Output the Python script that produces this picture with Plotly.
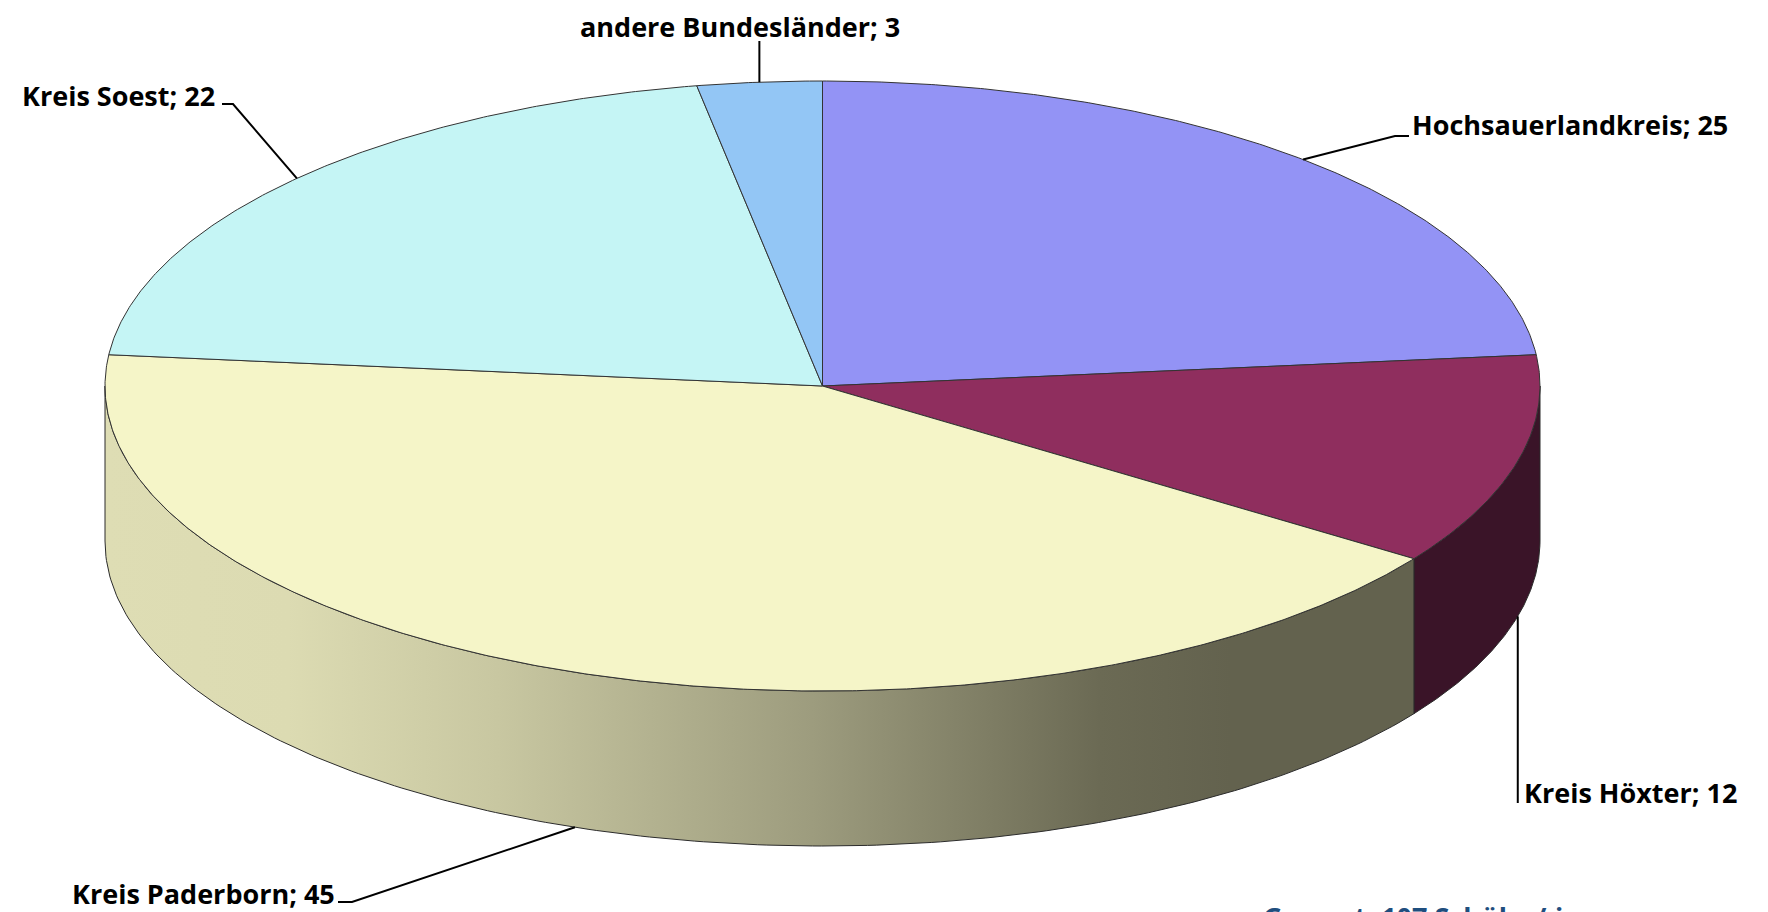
import numpy as np
import plotly.graph_objects as go

# ---------------- data ----------------
categories = ["Hochsauerlandkreis", "Kreis Höxter", "Kreis Paderborn", "Kreis Soest", "andere Bundesländer"]
values = [25, 12, 45, 22, 3]
top_colors = ["#9393F5", "#8F2E5E", "#F5F5C8", "#C5F5F5", "#93C6F5"]
side_colors = ["#4B4B7D", "#3A1428", "gradient", "#637C7C", "#4B647D"]
paderborn_side_scale = [[0.0, "#DEDDB4"], [0.14, "#DCDBB2"], [0.30, "#C8C7A1"],
                        [0.54, "#9D9C7E"], [0.76, "#6B6A54"], [0.86, "#63624E"], [1.0, "#63624E"]]
total_label = "Gesamt: 107 Schüler/-innen"

# ---------------- geometry (pixel space of the window) ----------------
W, H = 1768, 912
OFF = 8  # default page margin of the html body
CX, CY, RX, RY, DEPTH = 822.5, 386.0, 717.5, 305.0, 155.0

total = sum(values)
bounds = np.concatenate([[0], np.cumsum(values)]) / total * 360.0


def ell(theta_deg, dy=0.0):
    t = np.radians(theta_deg)
    return CX + RX * np.sin(t), CY - RY * np.cos(t) + dy


fig = go.Figure()

# side faces (front half only: 90..270 deg clockwise from 12 o'clock)
for i, cat in enumerate(categories):
    a, b = bounds[i], bounds[i + 1]
    lo, hi = max(a, 90.0), min(b, 270.0)
    if hi <= lo:
        continue
    th = np.linspace(lo, hi, 200)
    xt, yt = ell(th)
    xb, yb = ell(th[::-1], DEPTH)
    xs = np.concatenate([xt, xb, xt[:1]])
    ys = np.concatenate([yt, yb, yt[:1]])
    kw = {}
    if side_colors[i] == "gradient":
        kw["fillgradient"] = dict(type="horizontal", colorscale=paderborn_side_scale)
        kw["fillcolor"] = "#9D9C7E"
    else:
        kw["fillcolor"] = side_colors[i]
    fig.add_trace(go.Scatter(x=xs, y=ys, mode="lines", fill="toself",
                             line=dict(color="#2b2b2b", width=1), hoverinfo="skip",
                             showlegend=False, **kw))

# top faces
for i, cat in enumerate(categories):
    a, b = bounds[i], bounds[i + 1]
    th = np.linspace(a, b, max(int((b - a) * 3), 10))
    xt, yt = ell(th)
    xs = np.concatenate([[CX], xt, [CX]])
    ys = np.concatenate([[CY], yt, [CY]])
    fig.add_trace(go.Scatter(x=xs, y=ys, mode="lines", fill="toself", fillcolor=top_colors[i],
                             line=dict(color="#333333", width=1), hoverinfo="skip",
                             showlegend=False, name=cat))

# labels with leader lines
label_layout = {
    "Hochsauerlandkreis": dict(dy=0, elbow=[(1395, 136), (1409, 136)], tx=1411, ty=124, anchor="left"),
    "Kreis Höxter": dict(dy=DEPTH, elbow=[("ax", 803)], tx=1523, ty=792, anchor="left"),
    "Kreis Paderborn": dict(dy=DEPTH, elbow=[(352, 902), (338, 902)], tx=336, ty=893, anchor="right"),
    "Kreis Soest": dict(dy=0, elbow=[(233, 104), (222, 104)], tx=216, ty=95, anchor="right"),
    "andere Bundesländer": dict(dy=0, elbow=[("ax", 41)], tx=740, ty=26, anchor="center"),
}
for i, cat in enumerate(categories):
    L = label_layout[cat]
    mid = (bounds[i] + bounds[i + 1]) / 2
    ax, ay = ell(mid, L["dy"])
    lx, ly = [ax], [ay]
    for ex, ey in L["elbow"]:
        lx.append(ax if ex == "ax" else ex)
        ly.append(ey)
    fig.add_trace(go.Scatter(x=lx, y=ly, mode="lines", line=dict(color="black", width=2),
                             hoverinfo="skip", showlegend=False))
    fig.add_annotation(x=L["tx"], y=L["ty"], xref="x", yref="y", text=f"<b>{cat}; {values[i]}</b>",
                       showarrow=False, xanchor=L["anchor"], yanchor="middle",
                       font=dict(family="Open Sans", size=27, color="black"), borderpad=0)

fig.add_annotation(x=1262, y=897, xref="x", yref="y", text=f"<b>{total_label}</b>",
                   showarrow=False, xanchor="left", yanchor="top",
                   font=dict(family="Open Sans", size=27, color="#1F4E7E"), borderpad=0)

fig.update_layout(width=W - OFF, height=H - OFF, margin=dict(l=0, r=0, t=0, b=0),
                  paper_bgcolor="white", plot_bgcolor="white",
                  xaxis=dict(range=[OFF, W], visible=False, fixedrange=True),
                  yaxis=dict(range=[H, OFF], visible=False, fixedrange=True))

fig.write_html("out.html")
